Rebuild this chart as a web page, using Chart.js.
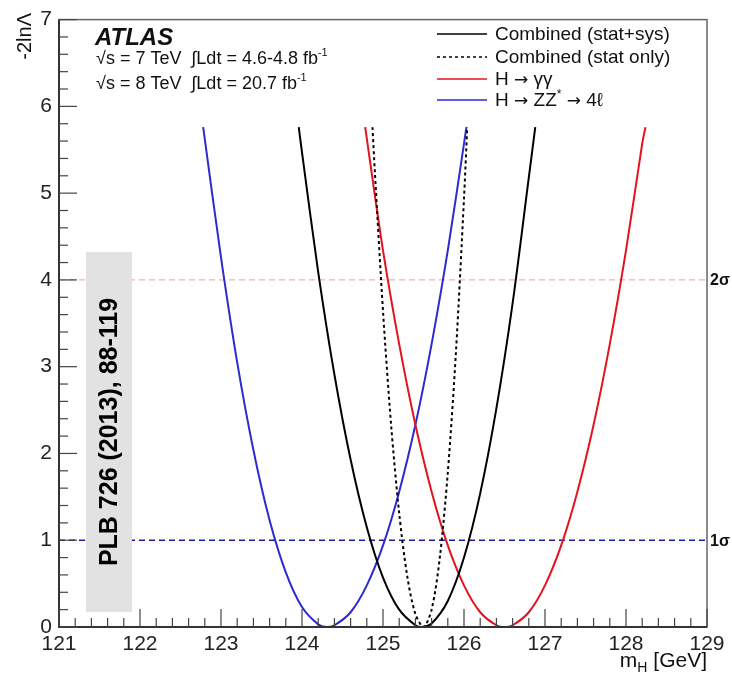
<!DOCTYPE html>
<html>
<head>
<meta charset="utf-8">
<script src="https://cdn.jsdelivr.net/npm/chart.js@4.4.1/dist/chart.umd.min.js"></script>
<style>
html, body { margin: 0; padding: 0; background: #fff; }
#wrap { width: 732px; height: 677px; }
</style>
</head>
<body>
<div id="wrap"><canvas id="nllChart" width="732" height="677"></canvas></div>
<script>
// profile likelihood scans (m_H in GeV vs -2lnΛ)
var combMass = [123.96, 124.0, 124.2, 124.4, 124.6, 124.8, 125.0, 125.2, 125.4, 125.48, 125.6, 125.8, 126.0, 126.2, 126.4, 126.6, 126.8, 126.88];
var combNll  = [5.76, 5.47, 4.09, 2.91, 1.93, 1.15, 0.57, 0.20, 0.02, 0.00, 0.04, 0.30, 0.80, 1.54, 2.52, 3.73, 5.18, 5.76];

var statMass = [124.87, 124.9, 125.0, 125.1, 125.2, 125.3, 125.4, 125.5, 125.6, 125.7, 125.8, 125.9, 126.0, 126.04];
var statNll  = [5.76, 5.24, 3.64, 2.33, 1.31, 0.58, 0.15, 0.00, 0.20, 0.79, 1.78, 3.16, 4.94, 5.76];

var yyMass = [124.78, 125.0, 125.2, 125.4, 125.6, 125.8, 126.0, 126.2, 126.4, 126.5, 126.6, 126.8, 127.0, 127.2, 127.4, 127.6, 127.8, 128.0, 128.2, 128.24];
var yyNll  = [5.76, 4.34, 3.26, 2.33, 1.56, 0.94, 0.48, 0.17, 0.02, 0.00, 0.02, 0.17, 0.48, 0.94, 1.56, 2.33, 3.26, 4.34, 5.57, 5.76];

var zzMass = [122.78, 123.0, 123.2, 123.4, 123.6, 123.8, 124.0, 124.2, 124.3, 124.4, 124.6, 124.8, 125.0, 125.2, 125.4, 125.6, 125.8, 126.0, 126.03];
var zzNll  = [5.76, 4.26, 3.05, 2.04, 1.23, 0.63, 0.23, 0.03, 0.00, 0.02, 0.17, 0.48, 0.94, 1.56, 2.33, 3.26, 4.34, 5.57, 5.76];

// sigma reference lines
var sigmaLevels = [1, 4];
var sigmaLabels = ['1σ', '2σ'];
var sigmaColors = ['#1c1c9c', 'rgba(225,90,90,0.6)'];

var xMin = 121, xMax = 129, yMin = 0, yMax = 7;
var FONT = '"Liberation Sans", Arial, Helvetica, sans-serif';
var SYM = '"DejaVu Sans", sans-serif';

function pts(xs, ys) {
    return xs.map(function (x, i) { return { x: x, y: ys[i] }; });
}

// draws a run of text pieces (for sub/superscripts)
function richText(ctx, parts, x, y) {
    var cx = x;
    parts.forEach(function (p) {
        ctx.font = (p.style || '') + ' ' + p.size + 'px ' + (p.fam || FONT);
        ctx.fillText(p.t, cx, y + (p.dy || 0));
        cx += ctx.measureText(p.t).width;
    });
    return cx;
}

var decor = {
    id: 'decor',
    beforeDatasetsDraw: function (chart) {
        var ctx = chart.ctx, area = chart.chartArea;
        var ys = chart.scales.y;
        ctx.save();
        sigmaLevels.forEach(function (lv, i) {
            var py = ys.getPixelForValue(lv);
            ctx.strokeStyle = sigmaColors[i];
            ctx.lineWidth = i === 0 ? 1.5 : 1;
            ctx.setLineDash([6, 4]);
            ctx.beginPath();
            ctx.moveTo(area.left, py);
            ctx.lineTo(area.right, py);
            ctx.stroke();
            ctx.setLineDash([]);
            ctx.fillStyle = '#111';
            ctx.font = 'bold 16px ' + FONT;
            ctx.textAlign = 'left';
            ctx.textBaseline = 'middle';
            ctx.fillText(sigmaLabels[i], area.right + 3, py + 1);
        });

        // journal reference box
        ctx.fillStyle = '#e2e2e2';
        ctx.fillRect(86, 252, 46, 360);
        ctx.translate(109, 432);
        ctx.rotate(-Math.PI / 2);
        ctx.fillStyle = '#000';
        ctx.font = 'bold 25px ' + FONT;
        ctx.textAlign = 'center';
        ctx.textBaseline = 'middle';
        ctx.fillText('PLB 726 (2013), 88-119', 0, 1);
        ctx.restore();
    },
    afterDraw: function (chart) {
        var ctx = chart.ctx, area = chart.chartArea;
        var xs = chart.scales.x, ys = chart.scales.y;
        ctx.save();

        // frame
        ctx.strokeStyle = '#666';
        ctx.lineWidth = 1.5;
        ctx.strokeRect(area.left, area.top, area.right - area.left, area.bottom - area.top);
        ctx.strokeStyle = '#333';
        ctx.lineWidth = 2;
        ctx.beginPath();
        ctx.moveTo(area.left, area.top);
        ctx.lineTo(area.left, area.bottom);
        ctx.lineTo(area.right, area.bottom);
        ctx.stroke();

        // ROOT-style inner ticks
        ctx.lineWidth = 1.2;
        ctx.strokeStyle = '#444';
        var i, px, len;
        for (i = 0; i <= (xMax - xMin) * 5; i++) {
            px = xs.getPixelForValue(xMin + i / 5);
            len = i % 5 === 0 ? 18 : 9;
            ctx.beginPath();
            ctx.moveTo(px, area.bottom);
            ctx.lineTo(px, area.bottom - len);
            ctx.stroke();
        }
        for (i = 0; i <= (yMax - yMin) * 5; i++) {
            px = ys.getPixelForValue(yMin + i / 5);
            len = i % 5 === 0 ? 18 : 9;
            ctx.beginPath();
            ctx.moveTo(area.left, px);
            ctx.lineTo(area.left + len, px);
            ctx.stroke();
        }

        ctx.fillStyle = '#111';
        ctx.textBaseline = 'alphabetic';
        ctx.textAlign = 'left';

        // x axis title
        ctx.font = '21px ' + FONT;
        var w1 = ctx.measureText('m').width;
        var w3 = ctx.measureText(' [GeV]').width;
        ctx.font = '14px ' + FONT;
        var w2 = ctx.measureText('H').width;
        richText(ctx, [
            { t: 'm', size: 21 },
            { t: 'H', size: 14, dy: 5 },
            { t: ' [GeV]', size: 21 }
        ], area.right - (w1 + w2 + w3), 667);

        // y axis title
        ctx.save();
        ctx.translate(31, 13);
        ctx.rotate(-Math.PI / 2);
        ctx.textAlign = 'right';
        ctx.font = '20px ' + FONT;
        ctx.fillText('-2lnΛ', 0, 0);
        ctx.restore();

        // ATLAS label
        ctx.textAlign = 'left';
        ctx.font = 'bold italic 24px ' + FONT;
        ctx.fillText('ATLAS', 95, 45);
        var ex = richText(ctx, [{ t: '√s = 7 TeV  ∫Ldt = 4.6-4.8 fb', size: 18 }], 96, 64);
        richText(ctx, [{ t: '-1', size: 11, dy: -8 }], ex, 64);
        ex = richText(ctx, [{ t: '√s = 8 TeV  ∫Ldt = 20.7 fb', size: 18 }], 96, 89);
        richText(ctx, [{ t: '-1', size: 11, dy: -8 }], ex, 89);

        // legend
        var rows = [
            { y: 34, color: '#000', dash: [], parts: [{ t: 'Combined (stat+sys)', size: 19 }] },
            { y: 57, color: '#000', dash: [3, 3], parts: [{ t: 'Combined (stat only)', size: 19 }] },
            { y: 79, color: '#e3121c', dash: [], parts: [
                { t: 'H ', size: 19 }, { t: '→', size: 17, fam: SYM }, { t: ' γγ', size: 19 }] },
            { y: 100, color: '#2b2bd0', dash: [], parts: [
                { t: 'H ', size: 19 }, { t: '→', size: 17, fam: SYM }, { t: ' ZZ', size: 19 },
                { t: '*', size: 12, dy: -8 }, { t: ' ', size: 19 }, { t: '→', size: 17, fam: SYM },
                { t: ' 4ℓ', size: 19 }] }
        ];
        rows.forEach(function (r) {
            ctx.strokeStyle = r.color;
            ctx.lineWidth = 1.5;
            ctx.setLineDash(r.dash);
            ctx.beginPath();
            ctx.moveTo(437, r.y);
            ctx.lineTo(487, r.y);
            ctx.stroke();
            ctx.setLineDash([]);
            ctx.fillStyle = '#111';
            richText(ctx, r.parts, 495, r.y + 6);
        });
        ctx.restore();
    }
};

var ctx = document.getElementById('nllChart').getContext('2d');
var nllChart = new Chart(ctx, {
    type: 'scatter',
    data: {
        datasets: [{
            label: 'Combined (stat+sys)',
            data: pts(combMass, combNll),
            borderColor: '#000',
            borderWidth: 2
        }, {
            label: 'Combined (stat only)',
            data: pts(statMass, statNll),
            borderColor: '#000',
            borderWidth: 2,
            borderDash: [3, 3]
        }, {
            label: 'H → γγ',
            data: pts(yyMass, yyNll),
            borderColor: '#e3121c',
            borderWidth: 2
        }, {
            label: 'H → ZZ* → 4ℓ',
            data: pts(zzMass, zzNll),
            borderColor: '#2b2bd0',
            borderWidth: 2
        }]
    },
    options: {
        responsive: false,
        animation: false,
        devicePixelRatio: 1,
        showLine: true,
        elements: {
            point: { radius: 0 },
            line: { tension: 0.3, fill: false }
        },
        layout: { padding: { left: 0, right: 25, top: 15, bottom: 0 } },
        plugins: {
            legend: { display: false },
            tooltip: { enabled: false }
        },
        scales: {
            x: {
                type: 'linear',
                min: xMin,
                max: xMax,
                afterFit: function (scale) { scale.height = 50; },
                grid: { display: false, drawTicks: false },
                border: { display: false },
                ticks: {
                    stepSize: 1,
                    padding: 5,
                    maxRotation: 0,
                    autoSkip: false,
                    color: '#222',
                    font: { family: FONT, size: 21 }
                }
            },
            y: {
                min: yMin,
                max: yMax,
                afterFit: function (scale) { scale.width = 59; },
                grid: { display: false, drawTicks: false },
                border: { display: false },
                ticks: {
                    stepSize: 1,
                    padding: 7,
                    color: '#222',
                    font: { family: FONT, size: 21 }
                }
            }
        }
    },
    plugins: [decor]
});
</script>
</body>
</html>
